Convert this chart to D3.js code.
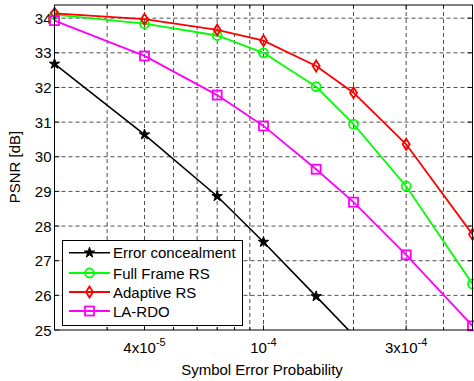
<!DOCTYPE html>
<html><head><meta charset="utf-8">
<script src="https://cdn.jsdelivr.net/npm/d3@7/dist/d3.min.js"></script>
<style>body{margin:0;background:#fff}svg{display:block}text{font-family:"Liberation Sans",Arial,sans-serif}</style>
</head><body><svg id="c" width="474" height="381"></svg>
<script>
const xValues = [2e-5, 4e-5, 7e-5, 1e-4, 1.5e-4, 2e-4, 3e-4, 5e-4];
const errorConcealment = [32.68, 30.64, 28.86, 27.54, 25.97, 24.85, 23.4, 21.0];
const fullFrameRS = [34.1, 33.84, 33.5, 33.0, 32.02, 30.94, 29.15, 26.33];
const adaptiveRS = [34.14, 33.97, 33.66, 33.35, 32.62, 31.85, 30.36, 27.76];
const laRDO = [33.93, 32.91, 31.78, 30.89, 29.64, 28.69, 27.17, 25.12];
const seriesNames = ["Error concealment", "Full Frame RS", "Adaptive RS", "LA-RDO"];
const yTicks = [25, 26, 27, 28, 29, 30, 31, 32, 33, 34];
const xTickValues = [4e-5, 1e-4, 3e-4];
const xMinor = [3e-5, 4e-5, 5e-5, 6e-5, 7e-5, 8e-5, 9e-5, 1e-4, 2e-4, 3e-4, 4e-4];

const svg = d3.select("#c");
const L = 54.5, R = 472.5, T = 5, B = 330;
const x = d3.scaleLog().domain([2e-5, 5e-4]).range([L, R]);
const y = d3.scaleLinear().domain([25, 34.38]).range([B, T]);

// grid
const g = svg.append("g").attr("stroke", "#222").attr("stroke-width", 0.8).attr("stroke-dasharray", "4,3");
xMinor.forEach(v => g.append("line").attr("x1", x(v)).attr("x2", x(v)).attr("y1", T).attr("y2", B));
yTicks.forEach(v => { if (v > 25) g.append("line").attr("x1", L).attr("x2", R).attr("y1", y(v)).attr("y2", y(v)); });

// ticks inside (bottom/top/left/right)
const tk = svg.append("g").attr("stroke", "#000").attr("stroke-width", 0.8);
xMinor.forEach(v => {
  const len = xTickValues.includes(v) ? 5 : 3;
  tk.append("line").attr("x1", x(v)).attr("x2", x(v)).attr("y1", B).attr("y2", B - len);
  tk.append("line").attr("x1", x(v)).attr("x2", x(v)).attr("y1", T).attr("y2", T + len);
});
yTicks.forEach(v => {
  tk.append("line").attr("x1", L).attr("x2", L + 5).attr("y1", y(v)).attr("y2", y(v));
  tk.append("line").attr("x1", R).attr("x2", R - 5).attr("y1", y(v)).attr("y2", y(v));
});

// tick labels
yTicks.forEach(v => svg.append("text").attr("x", L - 3).attr("y", y(v) + 5.5).attr("text-anchor", "end")
  .attr("font-size", 15).text(v));
const xlab = [["4x10", "-5"], ["10", "-4"], ["3x10", "-4"]];
xTickValues.forEach((v, i) => {
  const t = svg.append("text").attr("x", x(v)).attr("y", 353).attr("text-anchor", "middle").attr("font-size", 15);
  t.append("tspan").text(xlab[i][0]);
  t.append("tspan").attr("dy", -7).attr("font-size", 11).text(xlab[i][1]);
});
svg.append("text").attr("x", 262).attr("y", 375).attr("text-anchor", "middle").attr("font-size", 15).text("Symbol Error Probability");
svg.append("text").attr("transform", "translate(20,167) rotate(-90)").attr("text-anchor", "middle").attr("font-size", 15).text("PSNR [dB]");

// clip
svg.append("defs").append("clipPath").attr("id", "pc").append("rect").attr("x", L).attr("y", T).attr("width", R - L).attr("height", B - T);

const colors = ["#000000", "#00ff00", "#ff0000", "#ff00ff"];
const data = [errorConcealment, fullFrameRS, adaptiveRS, laRDO];
const shapes = ["star", "circle", "diamond", "square"];

function marker(sel, shape, color, cx, cy) {
  if (shape === "star") {
    sel.append("path").attr("d", d3.symbol(d3.symbolStar, 34)()).attr("transform", `translate(${cx},${cy})`)
      .attr("fill", color).attr("stroke", color).attr("stroke-width", 1);
  } else if (shape === "circle") {
    sel.append("circle").attr("cx", cx).attr("cy", cy).attr("r", 4.5).attr("fill", "none").attr("stroke", color).attr("stroke-width", 1.8);
  } else if (shape === "diamond") {
    sel.append("path").attr("d", `M${cx},${cy - 5.5}L${cx + 3.5},${cy}L${cx},${cy + 5.5}L${cx - 3.5},${cy}Z`)
      .attr("fill", "none").attr("stroke", color).attr("stroke-width", 1.8);
  } else {
    sel.append("rect").attr("x", cx - 4.5).attr("y", cy - 4.5).attr("width", 9).attr("height", 9)
      .attr("fill", "none").attr("stroke", color).attr("stroke-width", 1.8);
  }
}

const line = d3.line().x(d => x(d[0])).y(d => y(d[1]));
data.forEach((vals, i) => {
  const pts = xValues.map((xv, j) => [xv, vals[j]]);
  svg.append("path").attr("d", line(pts)).attr("fill", "none").attr("stroke", colors[i])
    .attr("stroke-width", i === 0 ? 1.6 : 1.8).attr("clip-path", "url(#pc)");
  const mg = svg.append("g");
  pts.filter(p => p[1] >= 25).forEach(p => marker(mg, shapes[i], colors[i], x(p[0]), y(p[1])));
});

// axes box
svg.append("rect").attr("x", L).attr("y", T).attr("width", R - L).attr("height", B - T)
  .attr("fill", "none").attr("stroke", "#000").attr("stroke-width", 1);

// legend
const lg = svg.append("g");
lg.append("rect").attr("x", 62.5).attr("y", 240.5).attr("width", 180).attr("height", 85)
  .attr("fill", "#fff").attr("stroke", "#000").attr("stroke-width", 1);
const rowsY = [252.7, 273, 292, 311];
seriesNames.forEach((n, i) => {
  lg.append("line").attr("x1", 69).attr("x2", 110).attr("y1", rowsY[i]).attr("y2", rowsY[i])
    .attr("stroke", colors[i]).attr("stroke-width", i === 0 ? 1.6 : 1.8);
  marker(lg, shapes[i], colors[i], 89.5, rowsY[i]);
  lg.append("text").attr("x", 113).attr("y", rowsY[i] + 5.5).attr("font-size", 15).text(n);
});
</script></body></html>
